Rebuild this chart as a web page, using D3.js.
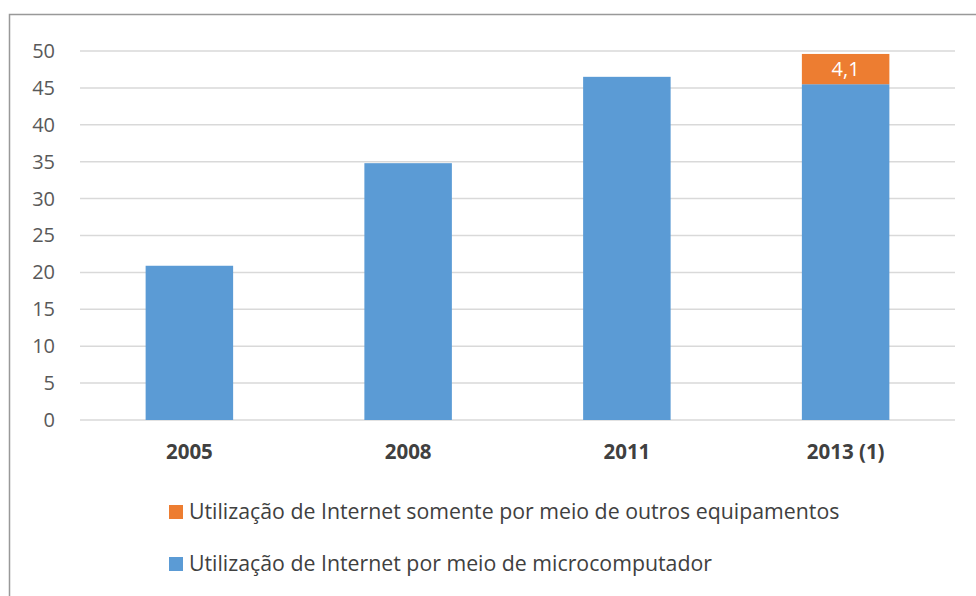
<!DOCTYPE html>
<html>
<head>
<meta charset="utf-8">
<script src="https://cdn.jsdelivr.net/npm/d3@7"></script>
<style>
  html, body { margin: 0; padding: 0; background: #fff; }
  svg { display: block; }
</style>
</head>
<body>
<svg id="chart" width="976" height="596"></svg>
<script>
const categories = ["2005", "2008", "2011", "2013 (1)"];
const microValues = [20.9, 34.8, 46.5, 45.5];
const otherValues = [0, 0, 0, 4.1];
const otherLabels = ["", "", "", "4,1"];
const yTicks = [0, 5, 10, 15, 20, 25, 30, 35, 40, 45, 50];
const seriesNames = [
  "Utilização de Internet somente por meio de outros equipamentos",
  "Utilização de Internet por meio de microcomputador"
];
const colors = { micro: "#5B9BD5", other: "#ED7D31" };

(function () {
const svg = d3.select("#chart");
const font = "'Open Sans', 'Noto Sans', sans-serif";

// frame
svg.append("path")
  .attr("d", "M9.5,596 L9.5,14.5 L976,14.5")
  .attr("fill", "none").attr("stroke", "#999").attr("stroke-width", 1.5);

const plotLeft = 80, plotRight = 955, plotTop = 51, plotBottom = 420;
const x = d3.scaleBand().domain(categories).range([plotLeft, plotRight])
  .paddingInner(0.6).paddingOuter(0.3);
const y = d3.scaleLinear().domain([0, 50]).range([plotBottom, plotTop]);

// gridlines
svg.append("g").selectAll("line").data(yTicks).join("line")
  .attr("x1", plotLeft).attr("x2", plotRight)
  .attr("y1", d => y(d)).attr("y2", d => y(d))
  .attr("stroke", "#d9d9d9").attr("stroke-width", 1.5);

// y axis labels
const yAxis = d3.axisLeft(y).tickValues(yTicks).tickSize(0).tickPadding(0);
const yg = svg.append("g").attr("transform", `translate(${plotLeft - 25},0)`).call(yAxis);
yg.select(".domain").remove();
yg.selectAll("text").attr("font-family", font).attr("font-size", 20)
  .attr("fill", "#595959");

// bars
const rows = categories.map((c, i) => ({ c, micro: microValues[i], other: otherValues[i], label: otherLabels[i] }));
svg.append("g").selectAll("rect").data(rows).join("rect")
  .attr("x", d => x(d.c)).attr("width", x.bandwidth())
  .attr("y", d => y(d.micro)).attr("height", d => y(0) - y(d.micro))
  .attr("fill", colors.micro);
svg.append("g").selectAll("rect").data(rows.filter(d => d.other > 0)).join("rect")
  .attr("x", d => x(d.c)).attr("width", x.bandwidth())
  .attr("y", d => y(d.micro + d.other)).attr("height", d => y(d.micro) - y(d.micro + d.other))
  .attr("fill", colors.other);
svg.append("g").selectAll("text").data(rows.filter(d => d.other > 0)).join("text")
  .attr("x", d => x(d.c) + x.bandwidth() / 2)
  .attr("y", d => y(d.micro + d.other / 2))
  .attr("dy", "0.36em")
  .attr("text-anchor", "middle")
  .attr("font-family", font).attr("font-size", 20).attr("fill", "#fff")
  .text(d => d.label);

// x axis labels
const xAxis = d3.axisBottom(x).tickSize(0).tickPadding(0);
const xg = svg.append("g").attr("transform", `translate(0,${plotBottom + 24})`).call(xAxis);
xg.select(".domain").remove();
xg.selectAll("text").attr("font-family", font).attr("font-size", 20.5)
  .attr("font-weight", "bold").attr("fill", "#404040").attr("dy", "0.71em");

// legend
const legendData = [
  { name: seriesNames[0], color: colors.other, y: 512 },
  { name: seriesNames[1], color: colors.micro, y: 564 }
];
const lg = svg.append("g").selectAll("g").data(legendData).join("g")
  .attr("transform", d => `translate(169,${d.y})`);
lg.append("rect").attr("x", 0).attr("y", -7).attr("width", 14).attr("height", 14)
  .attr("fill", d => d.color);
lg.append("text").attr("x", 20).attr("y", 0).attr("dy", "0.35em")
  .attr("font-family", font).attr("font-size", 21.3).attr("fill", "#404040")
  .text(d => d.name);
})();
</script>
</body>
</html>
